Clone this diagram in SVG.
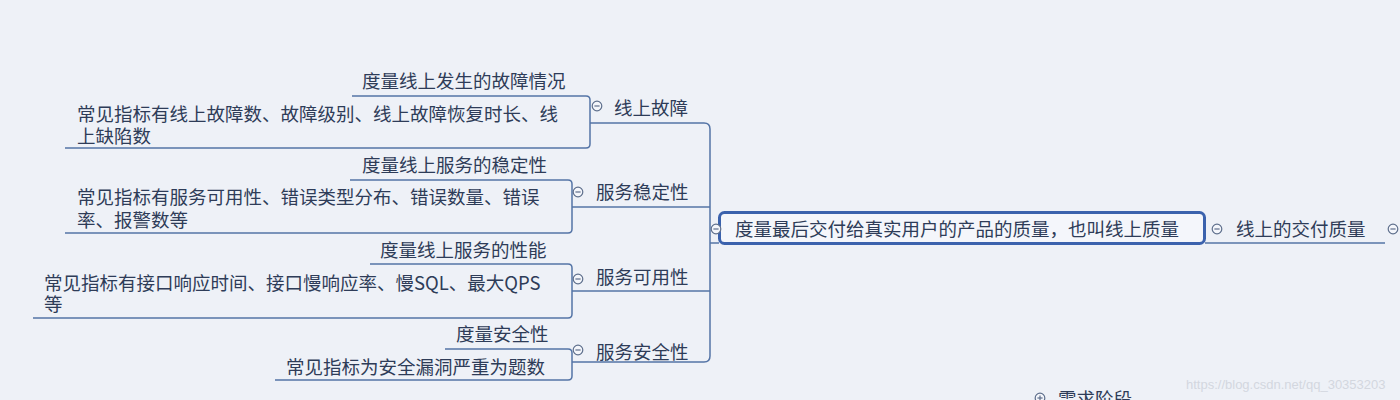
<svg xmlns="http://www.w3.org/2000/svg" width="1400" height="400" viewBox="0 0 1400 400">
<defs>
<style>
.t{font-family:"Noto Sans CJK SC","Noto Sans",sans-serif;font-size:18.5px;fill:#2e3c58}
.ln{fill:none;stroke:#5474a6;stroke-width:1.5}
.cc{fill:#f4f6fb;stroke:#5e6f8c;stroke-width:1.2}
.cl{stroke:#5e6f8c;stroke-width:1.2}
</style>
<g id="fold">
<circle class="cc" cx="0" cy="0" r="4.8"/>
<line class="cl" x1="-2.6" y1="0" x2="2.6" y2="0"/>
</g>
</defs>
<rect width="1400" height="400" fill="#eef1f7"/>
<g id="connectors">
<path class="ln" d="M590,123 H704 Q710,123 710,129 V356 Q710,362 704,362 H572"/>
<path class="ln" d="M572,207 H710"/>
<path class="ln" d="M572,291 H710"/>
<path class="ln" d="M710,243 H719"/>
<path class="ln" d="M352,96 H586 Q590,96 590,100 V144 Q590,148 586,148 H65"/>
<path class="ln" d="M350,180 H568 Q572,180 572,184 V229 Q572,233 568,233 H65"/>
<path class="ln" d="M370,264 H568 Q572,264 572,268 V314 Q572,318 568,318 H33"/>
<path class="ln" d="M445,349 H568 Q572,349 572,353 V376 Q572,380 568,380 H275"/>
<path class="ln" d="M1205,243 H1385"/>
</g>
<g id="main">
<rect x="719.5" y="212.5" width="485" height="31" rx="5" fill="#f4f6fb" stroke="#3b62ad" stroke-width="3"/>
<text class="t" x="735" y="236">度量最后交付给真实用户的产品的质量，也叫线上质量</text>
<use href="#fold" x="716" y="229"/>
</g>
<g id="online-delivery">
<use href="#fold" x="1217" y="229"/>
<text class="t" x="1236" y="236">线上的交付质量</text>
<use href="#fold" x="1393" y="229"/>
</g>
<g id="b1">
<use href="#fold" x="597" y="106"/>
<text class="t" x="614" y="115">线上故障</text>
</g>
<g id="b1c1"><text class="t" x="362" y="88">度量线上发生的故障情况</text></g>
<g id="b1c2"><text class="t" x="77" y="121">常见指标有线上故障数、故障级别、线上故障恢复时长、线</text><text class="t" x="77" y="143">上缺陷数</text></g>
<g id="b2">
<use href="#fold" x="578" y="192"/>
<text class="t" x="596" y="199">服务稳定性</text>
</g>
<g id="b2c1"><text class="t" x="362" y="172">度量线上服务的稳定性</text></g>
<g id="b2c2"><text class="t" x="77" y="204">常见指标有服务可用性、错误类型分布、错误数量、错误</text><text class="t" x="77" y="227">率、报警数等</text></g>
<g id="b3">
<use href="#fold" x="578" y="279"/>
<text class="t" x="596" y="284">服务可用性</text>
</g>
<g id="b3c1"><text class="t" x="380" y="257">度量线上服务的性能</text></g>
<g id="b3c2"><text class="t" x="44" y="290">常见指标有接口响应时间、接口慢响应率、慢SQL、最大QPS</text><text class="t" x="44" y="311">等</text></g>
<g id="b4">
<use href="#fold" x="578" y="350"/>
<text class="t" x="596" y="359">服务安全性</text>
</g>
<g id="b4c1"><text class="t" x="456" y="341">度量安全性</text></g>
<g id="b4c2"><text class="t" x="286" y="374">常见指标为安全漏洞严重为题数</text></g>
<g id="req">
<circle class="cc" cx="1040" cy="398" r="4.8"/>
<line class="cl" x1="1037.4" y1="398" x2="1042.6" y2="398"/>
<line class="cl" x1="1040" y1="395.4" x2="1040" y2="400.6"/>
<text class="t" x="1058" y="406">需求阶段</text>
</g>
<text x="1186" y="389" font-family="Liberation Sans,sans-serif" font-size="13" fill="#d3d7df">https://blog.csdn.net/qq_30353203</text>
</svg>
